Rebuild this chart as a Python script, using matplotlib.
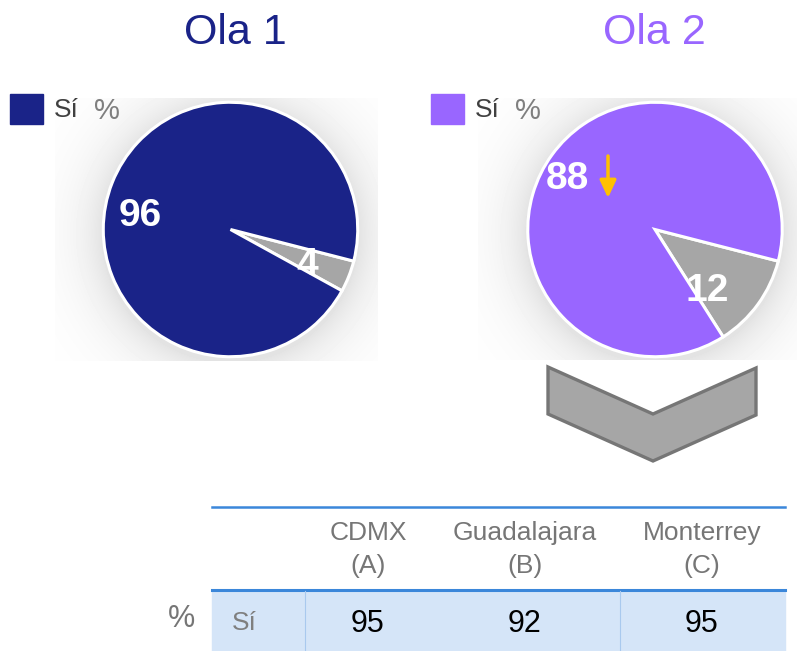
import matplotlib
matplotlib.use("Agg")
import matplotlib.pyplot as plt
import numpy as np
from matplotlib.patches import Polygon, Rectangle

plt.rcParams['font.family'] = ['Liberation Sans', 'DejaVu Sans']

# data
waves = ['Ola 1', 'Ola 2']
si = [96, 88]
no = [4, 12]
cities = ['CDMX', 'Guadalajara', 'Monterrey']
city_codes = ['(A)', '(B)', '(C)']
city_si = [95, 92, 95]

wave_colors = ['#1A2388', '#9966FF']
grey = '#A6A6A6'

W, H = 797, 651
fig = plt.figure(figsize=(W / 100, H / 100), dpi=100)
ax = fig.add_axes([0, 0, 1, 1])

# soft shadow behind each pie
centers = [(230.5, 229.5), (655, 229.5)]
R = 128.5
boxes = [(55, 378, 98, 361), (478, 797, 98, 360)]
for (cx, cy), (x0, x1, y0, y1) in zip(centers, boxes):
    xx, yy = np.meshgrid(np.arange(x0, x1) + 0.5, np.arange(y0, y1) + 0.5)
    d = np.hypot(xx - cx, yy - cy - 4) - R
    shade = np.where(d > 0, 0.11 * np.exp(-d / 28), 0.11)
    ax.imshow(1 - shade, cmap='gray', vmin=0, vmax=1, extent=(x0, x1, y1, y0),
              origin='upper', aspect='auto', interpolation='bilinear')

ax.set_xlim(0, W)
ax.set_ylim(H, 0)
ax.axis('off')

# titles + legends
title_x = [235, 654]
leg_x = [10, 431]
for i in range(2):
    ax.text(title_x[i], 33, waves[i], color=wave_colors[i], fontsize=31,
            ha='center', va='center')
    ax.add_patch(Rectangle((leg_x[i], 94), 33, 30, color=wave_colors[i]))
    ax.text(leg_x[i] + 44, 110, 'Sí', color='#404040', fontsize=19, va='center')
    ax.text(leg_x[i] + 84, 111, '%', color='#7F7F7F', fontsize=21, va='center')

# pies
lab_big = [(-0.71, 0.11), (-0.69, 0.40)]
lab_small = [(0.60, -0.28), (0.41, -0.48)]
paxes = []
for i, (cx, cy) in enumerate(centers):
    pax = fig.add_axes([(cx - R) / W, (H - cy - R) / H, 2 * R / W, 2 * R / H])
    pax.pie([no[i], si[i]], colors=[grey, wave_colors[i]], startangle=-14.4,
            counterclock=False, radius=1,
            wedgeprops=dict(edgecolor='white', linewidth=2.2))
    pax.set_xlim(-1.01, 1.01)
    pax.set_ylim(-1.01, 1.01)
    pax.axis('off')
    pax.text(*lab_big[i], str(si[i]), color='white', fontsize=28,
             fontweight='bold', ha='center', va='center')
    pax.text(*lab_small[i], str(no[i]), color='white', fontsize=28,
             fontweight='bold', ha='center', va='center')
    paxes.append(pax)

# down arrow for Ola 2 (drawn on top of the pie)
paxes[1].annotate('', xy=(608, 198), xytext=(608, 156),
                  xycoords=ax.transData, textcoords=ax.transData,
                  arrowprops=dict(arrowstyle='-|>,head_width=0.35,head_length=0.75',
                                  mutation_scale=14, color='#FFC000', lw=2.5,
                                  shrinkA=0, shrinkB=0))

# chevron
ax.add_patch(Polygon([(548, 367), (653, 414), (756, 368), (756, 415),
                      (653, 461), (548, 414)], closed=True,
                     facecolor=grey, edgecolor='#767676', lw=2.4))

# table
tx0, tx1 = 212, 785
col_x = [368, 525, 702]
ax.add_patch(Rectangle((tx0, 591), tx1 - tx0, 60, color='#D5E5F8', zorder=1))
ax.plot([tx0, tx1], [507, 507], color='#3B87DA', lw=1.8, zorder=2)
ax.plot([tx0, tx1], [590, 590], color='#3B87DA', lw=2.2, zorder=2)
for xv in [305, 620]:
    ax.plot([xv, xv], [591, 651], color='#A9C9EE', lw=0.8, zorder=2)
for i in range(3):
    ax.text(col_x[i], 533, cities[i], color='#767676', fontsize=19,
            ha='center', va='center')
    ax.text(col_x[i], 566, city_codes[i], color='#767676', fontsize=19,
            ha='center', va='center')
    ax.text(col_x[i], 624, str(city_si[i]), color='black', fontsize=22,
            ha='center', va='center', zorder=3)
ax.text(182, 619, '%', color='#767676', fontsize=22, ha='center', va='center')
ax.text(244, 623, 'Sí', color='#7F7F7F', fontsize=19, ha='center', va='center',
        zorder=3)

fig.savefig('out.png', dpi=100)
